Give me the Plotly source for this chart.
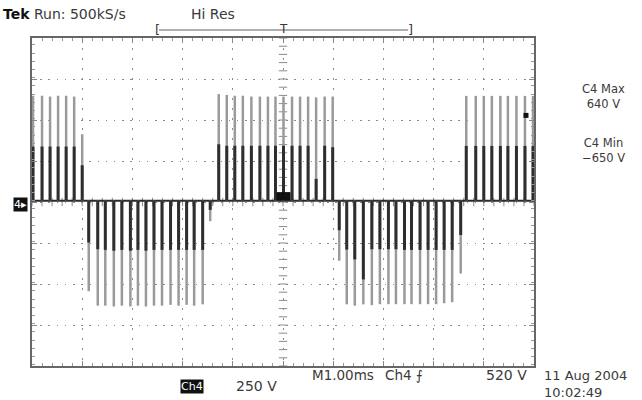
import plotly.graph_objects as go

# ---------------- data (read from the screen) ----------------
# time of each PWM pulse (ms), full pulse level (V), and bright/dense inner level (V)
pulse_t = [0.02, 0.20, 0.36, 0.52, 0.68, 0.84, 1.00,
           1.13, 1.31, 1.46, 1.63, 1.79, 1.96, 2.11, 2.27, 2.43, 2.59, 2.76, 2.92, 3.08, 3.23, 3.40, 3.55,
           3.72, 3.88, 4.04, 4.20, 4.37, 4.54, 4.70, 4.85, 5.01, 5.18, 5.34, 5.50, 5.66, 5.83, 5.99,
           6.12, 6.27, 6.43, 6.60, 6.77, 6.93, 7.10, 7.25, 7.42, 7.56, 7.73, 7.89, 8.05, 8.21, 8.37, 8.54,
           8.65, 8.84, 9.00, 9.16, 9.33, 9.48, 9.65, 9.82, 9.98]
pulse_peak = [640, 640, 635, 640, 640, 635, 405,
              -552, -640, -640, -645, -640, -645, -640, -645, -640, -640, -635, -640, -635, -640, -632, -125,
              650, 645, 640, 640, 635, 635, 635, 635, 635, 635, 635, 635, 630, 635, 635,
              -366, -632, -640, -632, -637, -631, -631, -631, -631, -631, -631, -631, -631, -625, -619, -444,
              639, 639, 639, 639, 639, 639, 639, 639, 639]
pulse_mid = [330, 330, 330, 330, 330, 330, 216,
             -255, -296, -300, -305, -300, -305, -300, -305, -300, -300, -300, -300, -300, -300, -300, -56,
             344, 335, 335, 335, 335, 335, 335, 335, 335, 335, 335, 335, 133, 335, 326,
             -180, -298, -358, -480, -296, -296, -296, -296, -300, -300, -300, -300, -300, -300, -300, -209,
             334, 334, 334, 334, 334, 334, 334, 334, 334]

time_span = [0.0, 10.0]      # ms, 1.00 ms/div
volt_per_div = 250            # V/div
trigger_level = 520           # V
c4_max = "640 V"
c4_min = "\u2212650 V"

# ---------------- build figure ----------------
offset = -8   # ground level sits slightly below screen centre
y_lo, y_hi = offset - 4 * volt_per_div, offset + 4 * volt_per_div

def segs(ts, vs):
    xs, ys = [], []
    for t, v in zip(ts, vs):
        xs += [t, t, None]
        ys += [0, v, None]
    return xs, ys

fig = go.Figure()

# graticule centre-line tick marks
minor_v = [y_lo + k * volt_per_div / 5 for k in range(41)]
minor_t = [time_span[0] + k * 0.2 for k in range(51)]
fig.add_trace(go.Scatter(x=[5.0] * len(minor_v), y=minor_v, mode="markers",
                         marker=dict(symbol="line-ew", size=6, line=dict(width=1, color="#8a8a8a")),
                         hoverinfo="skip", showlegend=False))
fig.add_trace(go.Scatter(x=minor_t, y=[offset] * len(minor_t), mode="markers",
                         marker=dict(symbol="line-ns", size=6, line=dict(width=1, color="#8a8a8a")),
                         hoverinfo="skip", showlegend=False))

# waveform: zero baseline, outer (dim) and inner (bright) parts of pulses
fig.add_trace(go.Scatter(x=time_span, y=[0, 0], mode="lines",
                         line=dict(color="#2b2b2b", width=2), showlegend=False))
lx, ly = segs(pulse_t, pulse_peak)
fig.add_trace(go.Scatter(x=lx, y=ly, mode="lines", line=dict(color="#9a9a9a", width=2.5),
                         showlegend=False))
dx, dy = segs(pulse_t, pulse_mid)
fig.add_trace(go.Scatter(x=dx, y=dy, mode="lines", line=dict(color="#2e2e2e", width=3),
                         showlegend=False))

# trigger point and trigger level markers
fig.add_trace(go.Scatter(x=[4.95, 5.07], y=[28, 28], mode="markers",
                         marker=dict(symbol="square", size=8, color="#111"), showlegend=False))
fig.add_trace(go.Scatter(x=[9.84], y=[trigger_level], mode="markers",
                         marker=dict(symbol="square", size=5, color="#111"), showlegend=False))

L, R, T, B = 32, 534, 38, 366
W, H = 642, 400

def px(x):
    return (x - L) / (R - L)

def py(y):
    return (B - y) / (B - T)

fnt = dict(family="DejaVu Sans", size=14, color="#3a3a3a")
ann = []
def txt(s, x, y, xa="left", **kw):
    f = dict(fnt)
    f.update(kw.pop("font", {}))
    ann.append(dict(text=s, x=px(x), y=py(y), xref="paper", yref="paper",
                    xanchor=xa, yanchor="middle", showarrow=False, font=f, **kw))

txt("<b><span style='color:#111'>Tek</span></b> Run: 500kS/s", 1, 14)
txt("Hi Res", 189, 14)
txt("[", 157, 30, xa="center", font=dict(size=13))
txt("]", 410, 30, xa="center", font=dict(size=13))
txt("T", 283, 29, xa="center", font=dict(size=12))
txt(f"C4 Max<br>{c4_max}", 603, 96, xa="center", font=dict(size=11.5))
txt(f"C4 Min<br>{c4_min}", 603, 150, xa="center", font=dict(size=11.5))
txt("M1.00ms", 310, 375, font=dict(size=13.5))
txt("Ch4 \u2a0d", 383, 375, font=dict(size=13.5))
txt(f"{trigger_level} V", 529, 375, xa="right")
txt("Ch4", 192, 386, xa="center", bgcolor="#111", font=dict(color="white", size=11), borderpad=0)
txt(f"{volt_per_div} V", 234, 386)
txt("11 Aug 2004<br>10:02:49", 542, 384, align="left", font=dict(size=13))
txt("4\u25b8", 20, 204, xa="center", bgcolor="#111", font=dict(color="white", size=11), borderpad=0)

shapes = [dict(type="line", xref="paper", yref="paper", x0=px(159), x1=px(408), y0=py(30), y1=py(30),
               line=dict(color="#b0b0b0", width=2))]

axis_common = dict(showticklabels=False, showline=True, linecolor="#666", linewidth=2,
                   mirror="allticks", ticks="inside", ticklen=5, tickcolor="#888", zeroline=False,
                   showgrid=True, gridcolor="#8a8a8a", gridwidth=1)
fig.update_layout(
    width=W, height=H, margin=dict(l=L, r=W - R, t=T, b=H - B),
    paper_bgcolor="white", plot_bgcolor="white",
    xaxis=dict(range=time_span, dtick=1.0, tick0=0, griddash="1.5px,8.5px",
               minor=dict(ticks="inside", ticklen=3, dtick=0.2, tickcolor="#999", showgrid=False),
               **axis_common),
    yaxis=dict(range=[y_lo, y_hi], dtick=volt_per_div, tick0=offset, griddash="1.5px,6.7px",
               minor=dict(ticks="inside", ticklen=3, dtick=volt_per_div / 5, tickcolor="#999", showgrid=False),
               **axis_common),
    annotations=ann, shapes=shapes, showlegend=False,
)

fig.write_html("out.html", config={"displayModeBar": False},
               post_script="document.body.style.margin='0';")
